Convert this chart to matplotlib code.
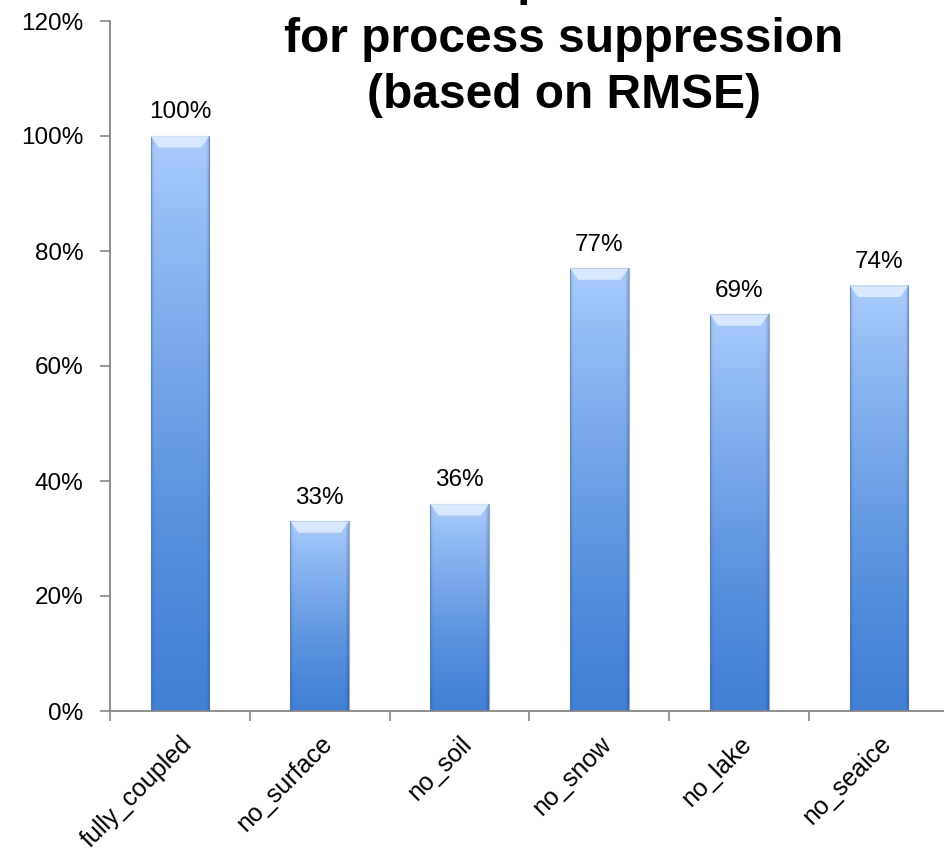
import matplotlib
matplotlib.use('Agg')
import matplotlib.pyplot as plt
import matplotlib.transforms as mtransforms
import numpy as np
from matplotlib.ticker import FuncFormatter

categories = ['fully_coupled', 'no_surface', 'no_soil', 'no_snow', 'no_lake', 'no_seaice']
values = [100, 33, 36, 77, 69, 74]
value_labels = ['100%', '33%', '36%', '77%', '69%', '74%']
title = 'Relative performance\nfor process suppression\n(based on RMSE)'

plt.rcParams['font.family'] = ['Liberation Sans', 'DejaVu Sans']

top_col = np.array([168, 203, 252]) / 255.0
bot_col = np.array([66, 128, 214]) / 255.0


def gradient_img():
    # light at the top, dark at the bottom, darker strips at the sides
    ny, nx = 200, 60
    t = np.linspace(0, 1, ny)[:, None, None] ** 1.3
    img = bot_col + (top_col - bot_col) * t
    img = np.repeat(img, nx, axis=1)
    xs = np.linspace(-1, 1, nx)
    side = 1 - 0.10 * np.clip((np.abs(xs) - 0.88) / 0.12, 0, 1)
    side = side - 0.08 * np.clip((xs - 0.9) / 0.1, 0, 1)
    img = img * side[None, :, None]
    return np.clip(img, 0, 1)


fig = plt.figure(figsize=(9.45, 8.52), dpi=100)
ax = fig.add_axes([110 / 945, 141 / 852, 839 / 945, 690 / 852])

x = np.arange(len(categories))
bars = ax.bar(x, values, width=0.42, color='none', edgecolor='none', zorder=2)

img = gradient_img()
for b in bars:
    x0, y0 = b.get_x(), b.get_y()
    w, h = b.get_width(), b.get_height()
    ax.imshow(img, extent=[x0, x0 + w, y0, y0 + h], origin='lower',
              aspect='auto', zorder=2, interpolation='bilinear')
    ax.plot([x0, x0, x0 + w, x0 + w], [y0, y0 + h, y0 + h, y0],
            color='#5078b0', lw=0.8, alpha=0.6, zorder=3)
    # light bevel at the top
    bev = 2.0
    ax.fill([x0, x0 + w, x0 + w * 0.86, x0 + w * 0.14],
            [y0 + h, y0 + h, y0 + h - bev, y0 + h - bev],
            color='#e2eeff', alpha=0.85, lw=0, zorder=3)

for xi, v, lab in zip(x, values, value_labels):
    ax.annotate(lab, (xi, v), xytext=(0, 9), textcoords='offset points',
                ha='center', va='bottom', fontsize=17.5)

ax.set_xlim(-0.5, len(categories) - 0.5)
ax.set_ylim(0, 120)
ax.set_yticks(np.arange(0, 121, 20))
ax.yaxis.set_major_formatter(FuncFormatter(lambda v, p: '%d%%' % v))

ax.set_xticks(np.arange(-0.5, len(categories), 1))
ax.set_xticklabels([])
ax.set_xticks(x, minor=True)
ax.set_xticklabels(categories, minor=True, rotation=45, ha='right', va='top',
                   rotation_mode='anchor', fontsize=18)
shift = mtransforms.ScaledTranslation(0.05, 0, fig.dpi_scale_trans)
for lab in ax.get_xticklabels(minor=True):
    lab.set_transform(lab.get_transform() + shift)
ax.tick_params(axis='x', which='minor', length=0, pad=15)
ax.tick_params(axis='x', which='major', length=7, width=1.2, color='#868686', direction='out')
ax.tick_params(axis='y', length=7, width=1.2, color='#868686', labelsize=17.5, pad=12)

for s in ['top', 'right']:
    ax.spines[s].set_visible(False)
for s in ['left', 'bottom']:
    ax.spines[s].set_color('#868686')
    ax.spines[s].set_linewidth(1.3)

fig.text(564 / 945, 1.047, title, ha='center', va='top', fontsize=34.5,
         fontweight='bold', linespacing=1.33)

fig.savefig('out.png', dpi=100)
